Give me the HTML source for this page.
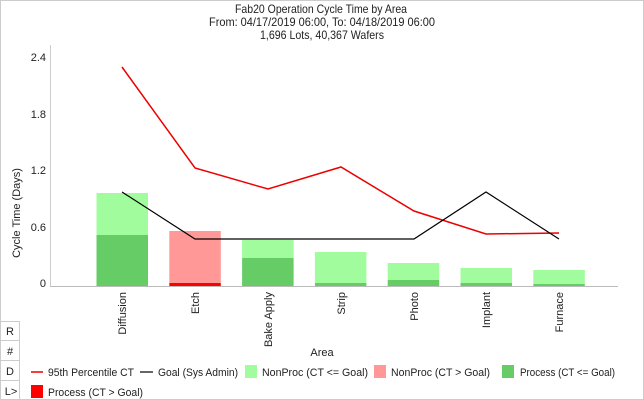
<!DOCTYPE html>
<html><head><meta charset="utf-8"><style>
body{margin:0;background:#fff;}
svg{display:block;font-family:"Liberation Sans",sans-serif;}
</style></head><body>
<svg width="644" height="400" viewBox="0 0 644 400">
<rect x="0.5" y="0.5" width="643" height="399" fill="#fff" stroke="#ccc"/>
<g font-size="12" fill="#222">
<text x="235" y="13" textLength="172" lengthAdjust="spacingAndGlyphs">Fab20 Operation Cycle Time by Area</text>
<text x="209" y="26" textLength="226" lengthAdjust="spacingAndGlyphs">From: 04/17/2019 06:00, To: 04/18/2019 06:00</text>
<text x="260" y="39" textLength="124" lengthAdjust="spacingAndGlyphs">1,696 Lots, 40,367 Wafers</text>
</g>
<g font-size="11" fill="#222" text-anchor="end">
<text x="46" y="61">2.4</text><text x="46" y="118">1.8</text><text x="46" y="174">1.2</text><text x="46" y="231">0.6</text><text x="46" y="287">0</text>
</g>
<text transform="translate(20,213) rotate(-90)" font-size="11" fill="#222" text-anchor="middle">Cycle Time (Days)</text>
<line x1="50.5" y1="45" x2="50.5" y2="287" stroke="#ccc"/>
<line x1="50" y1="286.5" x2="618" y2="286.5" stroke="#bbb"/>
<g>
<rect x="96.5" y="193" width="51.5" height="42" fill="#a0fc9c"/><rect x="96.5" y="235" width="51.5" height="51" fill="#66cc66"/>
<rect x="169.3" y="231" width="51.5" height="52" fill="#ff9896"/><rect x="169.3" y="283" width="51.5" height="3" fill="#ff0000"/>
<rect x="242.1" y="240" width="51.5" height="18" fill="#a0fc9c"/><rect x="242.1" y="258" width="51.5" height="28" fill="#66cc66"/>
<rect x="314.9" y="252" width="51.5" height="31" fill="#a0fc9c"/><rect x="314.9" y="283" width="51.5" height="3" fill="#66cc66"/>
<rect x="387.7" y="263" width="51.5" height="17" fill="#a0fc9c"/><rect x="387.7" y="280" width="51.5" height="6" fill="#66cc66"/>
<rect x="460.5" y="268" width="51.5" height="15" fill="#a0fc9c"/><rect x="460.5" y="283" width="51.5" height="3" fill="#66cc66"/>
<rect x="533.3" y="270" width="51.5" height="14" fill="#a0fc9c"/><rect x="533.3" y="284" width="51.5" height="2" fill="#66cc66"/>
</g>
<polyline points="122,67 195,168 268,189 341,167 414,211 486,234 559,233" fill="none" stroke="#ee0000" stroke-width="1.5"/>
<polyline points="122,192 195,239 268,239 341,239 414,239 486,192 559,239" fill="none" stroke="#000" stroke-width="1.2"/>
<g font-size="11" fill="#222" text-anchor="end">
<text transform="translate(126,292) rotate(-90)">Diffusion</text>
<text transform="translate(199,292) rotate(-90)">Etch</text>
<text transform="translate(272,292) rotate(-90)">Bake Apply</text>
<text transform="translate(345,292) rotate(-90)">Strip</text>
<text transform="translate(418,292) rotate(-90)">Photo</text>
<text transform="translate(490,292) rotate(-90)">Implant</text>
<text transform="translate(563,292) rotate(-90)">Furnace</text>
</g>
<text x="322" y="356" font-size="11" fill="#222" text-anchor="middle">Area</text>
<g fill="#fff" stroke="#ccc">
<rect x="0.5" y="321.5" width="19" height="19"/><rect x="0.5" y="340.5" width="19" height="20"/><rect x="0.5" y="360.5" width="19" height="20"/><rect x="0.5" y="380.5" width="19" height="19"/>
</g>
<g font-size="11" fill="#222" text-anchor="middle">
<text x="10" y="335">R</text><text x="10" y="355">#</text><text x="10" y="375">D</text><text x="11" y="395">L&gt;</text>
</g>
<g font-size="11" fill="#222">
<line x1="31" y1="372" x2="43" y2="372" stroke="#ee0000" stroke-width="1.5"/><text x="48" y="376" textLength="86" lengthAdjust="spacingAndGlyphs">95th Percentile CT</text>
<line x1="140" y1="372" x2="153" y2="372" stroke="#000" stroke-width="1.2"/><text x="158" y="376" textLength="80" lengthAdjust="spacingAndGlyphs">Goal (Sys Admin)</text>
<rect x="245" y="365" width="12" height="13" fill="#a0fc9c"/><text x="262" y="376" textLength="106" lengthAdjust="spacingAndGlyphs">NonProc (CT &lt;= Goal)</text>
<rect x="374" y="365" width="12" height="13" fill="#ff9896"/><text x="391" y="376" textLength="99" lengthAdjust="spacingAndGlyphs">NonProc (CT &gt; Goal)</text>
<rect x="502" y="365" width="12" height="13" fill="#66cc66"/><text x="520" y="376" textLength="95" lengthAdjust="spacingAndGlyphs">Process (CT &lt;= Goal)</text>
<rect x="31" y="385" width="12" height="13" fill="#ff0000"/><text x="48" y="396" textLength="95" lengthAdjust="spacingAndGlyphs">Process (CT &gt; Goal)</text>
</g>
</svg>
</body></html>
